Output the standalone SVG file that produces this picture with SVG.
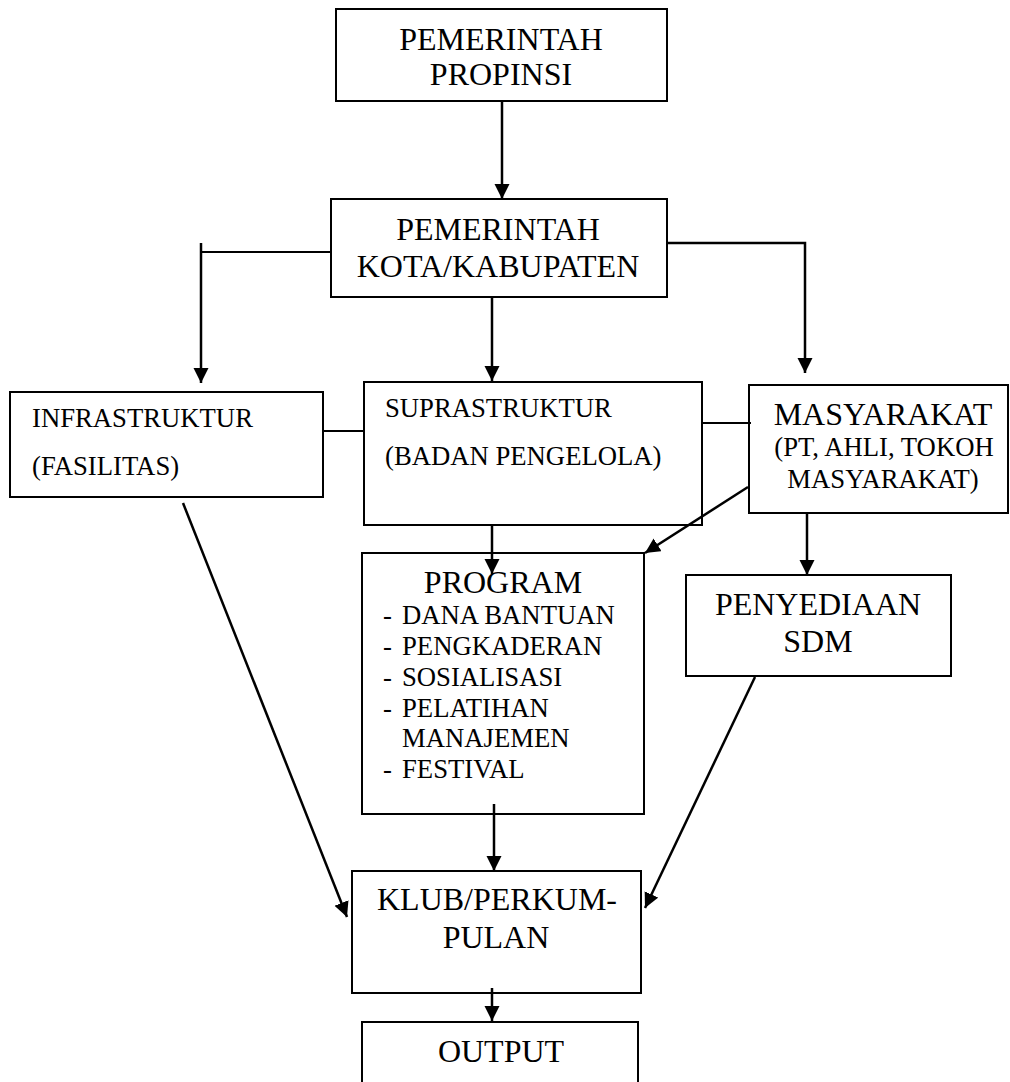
<svg xmlns="http://www.w3.org/2000/svg" width="1010" height="1082" viewBox="0 0 1010 1082">
  <style>
    text { font-family: 'Liberation Serif', 'DejaVu Serif', serif; fill: #000; }
    .box { fill: #fff; stroke: #000; stroke-width: 2; }
    .lg { font-size: 32px; }
    .sm { font-size: 26.7px; }
    .mid { text-anchor: middle; }
    .ln { fill: none; stroke: #000; stroke-width: 2; }
    .ar { fill: none; stroke: #000; stroke-width: 2.5; marker-end: url(#head); }
  </style>
  <defs>
    <marker id="head" markerUnits="userSpaceOnUse" markerWidth="16" markerHeight="16" refX="15" refY="7.5" orient="auto">
      <path d="M0,0 L15,7.5 L0,15 z" fill="#000"/>
    </marker>
  </defs>
  <rect width="1010" height="1082" fill="#fff"/>

  <g id="pemerintah-propinsi">
    <rect class="box" x="336" y="9" width="331" height="92"/>
    <text class="lg mid" x="501" y="50">PEMERINTAH</text>
    <text class="lg mid" x="501" y="85">PROPINSI</text>
  </g>

  <g id="pemerintah-kota">
    <rect class="box" x="331" y="199" width="336" height="98"/>
    <text class="lg mid" x="498" y="240">PEMERINTAH</text>
    <text class="lg mid" x="498" y="277">KOTA/KABUPATEN</text>
  </g>

  <g id="infrastruktur">
    <rect class="box" x="10" y="392" width="313" height="105"/>
    <text class="sm" x="32" y="427">INFRASTRUKTUR</text>
    <text class="sm" x="32" y="475">(FASILITAS)</text>
  </g>

  <g id="suprastruktur">
    <rect class="box" x="364" y="382" width="338" height="143"/>
    <text class="sm" x="385" y="417">SUPRASTRUKTUR</text>
    <text class="sm" x="385" y="465">(BADAN PENGELOLA)</text>
  </g>

  <g id="masyarakat">
    <rect class="box" x="749" y="385" width="259" height="128"/>
    <text class="lg mid" x="883" y="425">MASYARAKAT</text>
    <text class="sm mid" x="884" y="456">(PT, AHLI, TOKOH</text>
    <text class="sm mid" x="883" y="488">MASYARAKAT)</text>
  </g>

  <g id="program">
    <rect class="box" x="362" y="553" width="282" height="261"/>
    <text class="lg mid" x="503" y="593">PROGRAM</text>
    <text class="sm" x="383" y="624">-</text>
    <text class="sm" x="402" y="624">DANA BANTUAN</text>
    <text class="sm" x="383" y="655">-</text>
    <text class="sm" x="402" y="655">PENGKADERAN</text>
    <text class="sm" x="383" y="686">-</text>
    <text class="sm" x="402" y="686">SOSIALISASI</text>
    <text class="sm" x="383" y="717">-</text>
    <text class="sm" x="402" y="717">PELATIHAN</text>
    <text class="sm" x="402" y="747">MANAJEMEN</text>
    <text class="sm" x="383" y="778">-</text>
    <text class="sm" x="402" y="778">FESTIVAL</text>
  </g>

  <g id="penyediaan-sdm">
    <rect class="box" x="686" y="575" width="265" height="101"/>
    <text class="lg mid" x="818" y="615">PENYEDIAAN</text>
    <text class="lg mid" x="818" y="652">SDM</text>
  </g>

  <g id="klub">
    <rect class="box" x="352" y="871" width="289" height="122"/>
    <text class="lg mid" x="497" y="910">KLUB/PERKUM-</text>
    <text class="lg mid" x="496" y="948">PULAN</text>
  </g>

  <g id="output">
    <rect class="box" x="362" y="1022" width="276" height="80"/>
    <text class="lg mid" x="501" y="1062">OUTPUT</text>
  </g>

  <g id="connectors">
    <line class="ar" x1="502" y1="101" x2="502" y2="199"/>
    <line class="ar" x1="492" y1="297" x2="492" y2="381"/>
    <line class="ln" x1="331" y1="252" x2="201" y2="252"/>
    <line class="ar" x1="201" y1="243" x2="201" y2="383"/>
    <polyline class="ar" points="667,243 805,243 805,373"/>
    <line class="ln" x1="323" y1="431" x2="365" y2="431"/>
    <line class="ln" x1="702" y1="423" x2="751" y2="423"/>
    <line class="ar" x1="492" y1="525" x2="492" y2="574"/>
    <line class="ar" x1="748" y1="487" x2="645" y2="553"/>
    <line class="ar" x1="807" y1="513" x2="807" y2="575"/>
    <line class="ar" x1="183" y1="503" x2="347" y2="917"/>
    <line class="ar" x1="755" y1="677" x2="645" y2="908"/>
    <line class="ar" x1="494" y1="804" x2="494" y2="871"/>
    <line class="ar" x1="492" y1="988" x2="492" y2="1021"/>
  </g>
</svg>
